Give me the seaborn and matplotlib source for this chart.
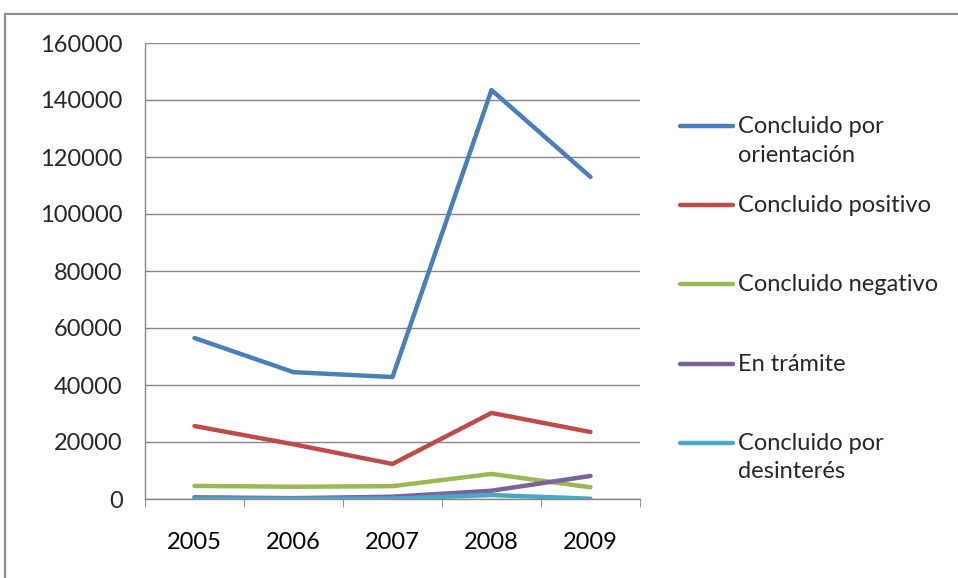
import matplotlib
matplotlib.use("Agg")
import matplotlib.pyplot as plt
from matplotlib.lines import Line2D
from matplotlib.patches import Rectangle
import pandas as pd
import seaborn as sns

years = ["2005", "2006", "2007", "2008", "2009"]
series_names = [
    "Concluido por\norientación",
    "Concluido positivo",
    "Concluido negativo",
    "En trámite",
    "Concluido por\ndesinterés",
]
orientacion = [56500, 44500, 42800, 143500, 113000]
positivo = [25600, 19200, 12300, 30200, 23500]
negativo = [4600, 4300, 4500, 8800, 4100]
tramite = [600, 300, 800, 2900, 8100]
desinteres = [100, 100, 100, 1400, 100]
colors = ["#4A7EBB", "#BE4B48", "#98B954", "#7D60A0", "#46AAC5"]

all_values = [orientacion, positivo, negativo, tramite, desinteres]
rows = []
for name, vals in zip(series_names, all_values):
    for i, v in enumerate(vals):
        rows.append({"pos": i, "year": years[i], "serie": name, "valor": v})
df = pd.DataFrame(rows)

sns.set_style("white")
plt.rcParams["font.family"] = ["Lato", "DejaVu Sans"]

fig = plt.figure(figsize=(9.58, 5.78), dpi=100)
ax = fig.add_axes([145 / 958, 1 - 499 / 578, 495 / 958, 456 / 578])

sns.lineplot(data=df, x="pos", y="valor", hue="serie", palette=colors,
             linewidth=3.2, legend=False, ax=ax, solid_capstyle="round")

ax.set_xlim(-0.5, 4.5)
ax.set_ylim(0, 160000)
ax.set_yticks(range(0, 160001, 20000))
ax.set_yticklabels([str(v) for v in range(0, 160001, 20000)])
ax.set_xticks(range(len(years)))
ax.set_xticklabels(years)
ax.set_xticks([i - 0.5 for i in range(len(years) + 1)], minor=True)
ax.set_xlabel("")
ax.set_ylabel("")

ax.grid(axis="y", color="#868686", linewidth=1)
ax.set_axisbelow(True)
for side in ["top", "right"]:
    ax.spines[side].set_visible(False)
for side in ["left", "bottom"]:
    ax.spines[side].set_color("#868686")
    ax.spines[side].set_linewidth(1)

ax.tick_params(axis="x", which="major", length=0, pad=24, labelsize=17, colors="black")
ax.tick_params(axis="x", which="minor", length=6, direction="out", color="#868686", bottom=True)
ax.tick_params(axis="y", length=6, direction="out", color="#868686", pad=10, labelsize=17)

# legend drawn by hand, Excel style (handles evenly spaced, text top-aligned)
for i, (name, c) in enumerate(zip(series_names, colors)):
    y = 1 - (126 + i * 79.2) / 578
    fig.add_artist(Line2D([680 / 958, 733 / 958], [y, y], color=c, linewidth=3.2,
                          solid_capstyle="round"))
    fig.text(738 / 958, y + 10 / 578, name, fontsize=17, va="top", ha="left",
             linespacing=1.45)

# outer chart border
fig.add_artist(Rectangle((5 / 958, -0.2), 1.2, 1.2 - 14 / 578,
                         transform=fig.transFigure, fill=False,
                         edgecolor="#8C8C8C", linewidth=1.5))

fig.savefig("out.png", dpi=100)
